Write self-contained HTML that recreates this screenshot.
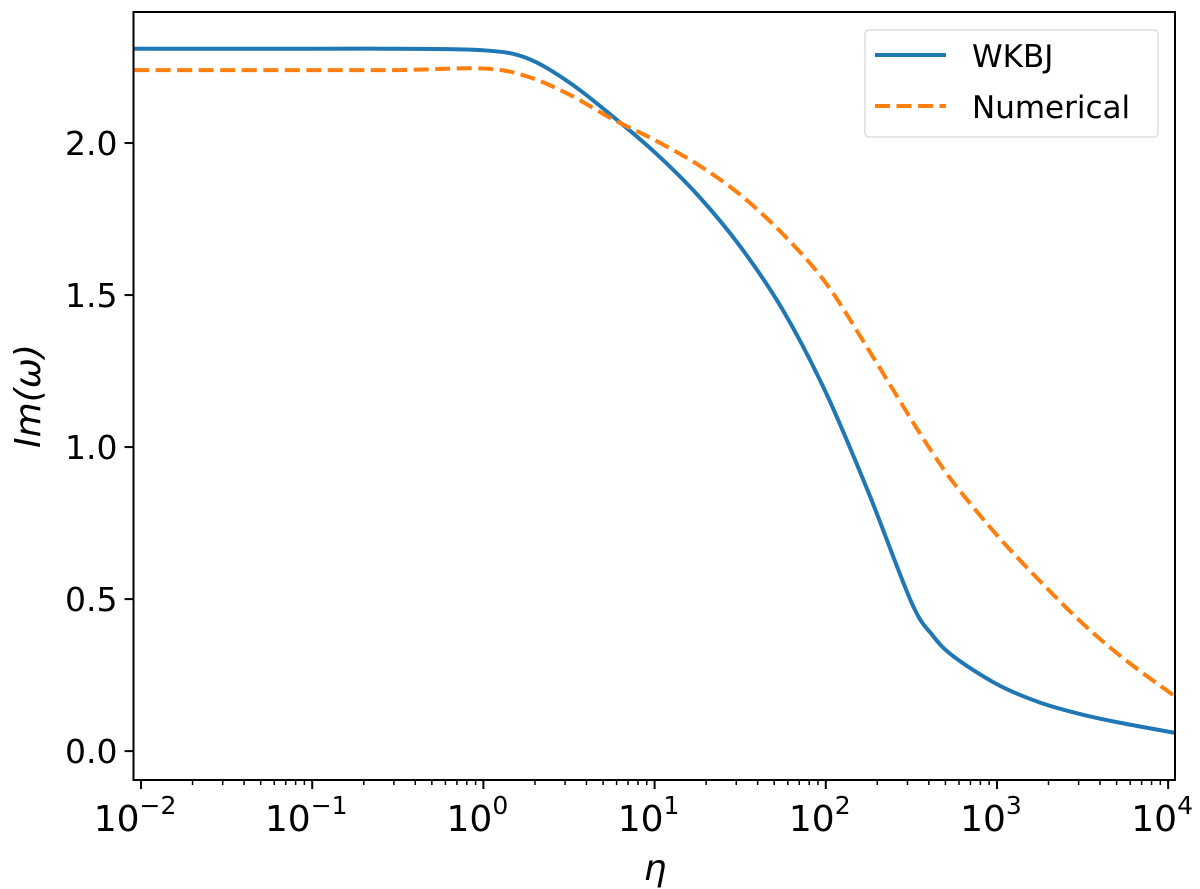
<!DOCTYPE html>
<html><head><meta charset="utf-8"><style>body{margin:0;background:#fff}svg{display:block;font-family:"DejaVu Sans","Liberation Sans",sans-serif}</style></head>
<body>
<svg id="c" width="1200" height="889"></svg>
<script>
const logEta=[-2.04,-1,-0.5,0,0.25,0.5,0.75,1,1.25,1.5,1.75,2,2.25,2.5,2.625,2.75,3,3.25,3.5,3.75,4.04];
const wkbj=[2.31,2.31,2.31,2.305,2.28,2.20,2.09,1.97,1.83,1.66,1.45,1.18,0.85,0.49,0.38,0.31,0.22,0.16,0.12,0.09,0.06];
const numerical=[2.24,2.24,2.24,2.245,2.22,2.16,2.08,2.01,1.93,1.83,1.70,1.54,1.32,1.09,0.98,0.88,0.71,0.56,0.42,0.30,0.18];
const etaVals=logEta.map(l=>Math.pow(10,l));
const yTicks=[0,0.5,1.0,1.5,2.0];
const xDecades=[-2,-1,0,1,2,3,4];
const L=133.5,R=1175,T=12,B=780;
const xmin=-2.044,xmax=4.04,ymin=-0.095,ymax=2.431;
const X=v=>L+(Math.log10(v)-xmin)/(xmax-xmin)*(R-L);
const Y=v=>B-(v-ymin)/(ymax-ymin)*(B-T);
const svg=document.getElementById('c');const NS='http://www.w3.org/2000/svg';
function mk(t,a,p){const e=document.createElementNS(NS,t);for(const k in a)e.setAttribute(k,a[k]);(p||svg).appendChild(e);return e;}
function path(vals){const p=etaVals.map((e,i)=>[X(e),Y(vals[i])]);let d='M'+p[0][0]+','+p[0][1];
for(let i=0;i<p.length-1;i++){const p0=p[Math.max(0,i-1)],p1=p[i],p2=p[i+1],p3=p[Math.min(p.length-1,i+2)];
d+=' C'+(p1[0]+(p2[0]-p0[0])/6)+','+(p1[1]+(p2[1]-p0[1])/6)+' '+(p2[0]-(p3[0]-p1[0])/6)+','+(p2[1]-(p3[1]-p1[1])/6)+' '+p2[0]+','+p2[1];}return d;}
mk('defs',{}).innerHTML='<clipPath id="cp"><rect x="'+L+'" y="'+T+'" width="'+(R-L)+'" height="'+(B-T)+'"/></clipPath>';
const w=mk('path',{d:path(wkbj),fill:'none',stroke:'#1f77b4','stroke-width':4,'clip-path':'url(#cp)'});


const n=mk('path',{d:path(numerical),fill:'none',stroke:'#ff7f0e','stroke-width':4,'stroke-dasharray':'15 6.5','clip-path':'url(#cp)'});


const f=mk('rect',{x:L,y:T,width:R-L,height:B-T,fill:'none',stroke:'#000','stroke-width':2});


yTicks.forEach(v=>{const y=Y(v);mk('line',{x1:L-9,x2:L,y1:y,y2:y,stroke:'#000','stroke-width':2});
const t=mk('text',{x:L-16,y:y+12,'text-anchor':'end','font-size':33});t.textContent=v.toFixed(1);

});
xDecades.forEach(d=>{const x=X(Math.pow(10,d));mk('line',{x1:x,x2:x,y1:B,y2:B+9,stroke:'#000','stroke-width':2});
const t=mk('text',{x:x-6,y:B+51,'text-anchor':'middle','font-size':36});t.innerHTML='10<tspan dy="-17" font-size="25">'+(d<0?'\u2212'+(-d):d)+'</tspan>';


if(d<4)for(let m=2;m<10;m++){const xm=X(m*Math.pow(10,d));if(xm<=R)mk('line',{x1:xm,x2:xm,y1:B,y2:B+5,stroke:'#000','stroke-width':1.5});}});
const xl=mk('text',{x:655,y:880,'text-anchor':'middle','font-size':36,'font-style':'italic'});xl.textContent='η';


const yl=mk('text',{x:0,y:0,'text-anchor':'middle','font-size':36,'font-style':'italic',transform:'translate(40,396) rotate(-90)'});yl.textContent='Im(ω)';


const g=mk('g',{});


mk('rect',{x:865,y:30,width:293,height:107,rx:4,fill:'#fff',stroke:'#ddd','stroke-width':1.5},g);
mk('line',{x1:875,x2:946,y1:55,y2:55,stroke:'#1f77b4','stroke-width':4},g);
mk('line',{x1:875,x2:946,y1:106,y2:106,stroke:'#ff7f0e','stroke-width':4,'stroke-dasharray':'15 6.5'},g);
const t1=mk('text',{x:972,y:67,'font-size':31},g);t1.textContent='WKBJ';


const t2=mk('text',{x:972,y:118,'font-size':31},g);t2.textContent='Numerical';


</script>
</body></html>
